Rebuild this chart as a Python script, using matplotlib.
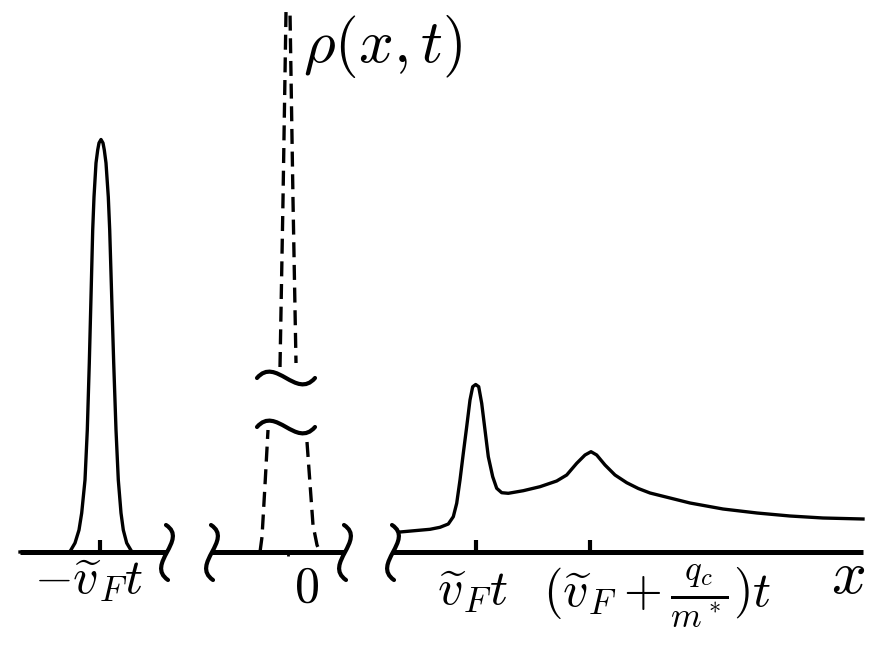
import matplotlib
matplotlib.use("Agg")
import matplotlib.pyplot as plt
from matplotlib.path import Path
from matplotlib.patches import PathPatch

plt.rcParams["mathtext.fontset"] = "cm"

# peak at -v_F t (left branch)
left_x = [0.20, 0.65, 0.70, 0.75, 0.79, 0.817, 0.85, 0.873, 0.893, 0.91, 0.927, 0.94,
          0.96, 0.977, 0.99, 1.01, 1.03, 1.043, 1.06, 1.083, 1.097, 1.117, 1.137, 1.16,
          1.183, 1.21, 1.233, 1.267, 1.317, 1.37, 1.60]
left_rho = [0.00, 0.00, 0.005, 0.09, 0.22, 0.39, 0.72, 1.22, 1.89, 2.55, 3.22, 3.55,
            3.89, 4.02, 4.09, 4.125, 4.09, 4.02, 3.89, 3.55, 3.22, 2.55, 1.89, 1.22,
            0.72, 0.39, 0.22, 0.09, 0.005, 0.00, 0.00]

# peak at x = 0 (dashed, cut in the middle)
mid_low_lx = [2.60, 2.62, 2.65, 2.68]
mid_low_lrho = [0.00, 0.15, 0.67, 1.22]
mid_low_rx = [3.07, 3.13, 3.17, 3.20]
mid_low_rrho = [1.10, 0.27, 0.07, 0.00]
mid_high_x = [2.80, 2.83, 2.86, 2.90, 2.93, 2.96]
mid_high_rho = [1.85, 3.52, 5.40, 5.40, 3.52, 1.89]
cut_levels = [1.74, 1.25]
cut_x = 2.86

# right branch: v_F t and (v_F + q_c/m*) t
right_x = [4.00, 4.30, 4.40, 4.483, 4.533, 4.567, 4.60, 4.633, 4.667, 4.70, 4.727,
           4.757, 4.787, 4.817, 4.85, 4.883, 4.927, 4.967, 5.017, 5.083, 5.233, 5.40,
           5.567, 5.667, 5.767, 5.85, 5.91, 5.967, 6.05, 6.15, 6.267, 6.383, 6.50,
           6.90, 7.23, 7.57, 7.90, 8.23, 8.63]
right_rho = [0.20, 0.227, 0.247, 0.28, 0.353, 0.487, 0.72, 0.987, 1.253, 1.52, 1.653,
             1.675, 1.653, 1.487, 1.22, 0.953, 0.753, 0.637, 0.593, 0.587, 0.613, 0.653,
             0.71, 0.77, 0.887, 0.97, 1.003, 0.97, 0.87, 0.77, 0.693, 0.635, 0.59,
             0.49, 0.43, 0.39, 0.36, 0.34, 0.33]

# broken x axis
axis_start, axis_end = 0.20, 8.63
breaks = [1.67, 2.12, 3.45, 3.93]

tick_x = [1.00, 4.76, 5.90]
tick_labels = [r"$-\widetilde{v}_F t$", r"$\widetilde{v}_F t$",
               r"$(\widetilde{v}_F+\frac{q_c}{m^*})t$"]
tick_label_pos = [(0.885, -0.41), (4.72, -0.52), (6.575, -0.545)]
zero_x = 2.88

fig = plt.figure(figsize=(8.76, 6.46), dpi=100)
ax = fig.add_axes([0, 0, 1, 1])
ax.set_xlim(0, 8.76)
ax.set_ylim(-0.94, 5.52)
ax.axis("off")

# axis pieces between the break marks
seg_ends = [axis_start] + breaks + [axis_end]
for a, b in zip(seg_ends[0::2], seg_ends[1::2]):
    ax.plot([a, b], [0, 0], color="black", lw=3.6, solid_capstyle="butt")

# break marks, a vertical S at each cut
for bx in breaks:
    verts = [(bx - 0.01, 0.27), (bx + 0.22, 0.12), (bx - 0.22, -0.12), (bx + 0.01, -0.28)]
    path = Path(verts, [Path.MOVETO, Path.CURVE4, Path.CURVE4, Path.CURVE4])
    ax.add_patch(PathPatch(path, fill=False, lw=3.0, color="black", capstyle="round"))

# ticks
ax.vlines(tick_x, 0, 0.12, color="black", lw=3)
ax.vlines([zero_x], -0.04, 0, color="black", lw=2)

# curves
ax.plot(left_x, left_rho, color="black", lw=2.4, solid_joinstyle="round")
ax.plot(right_x, right_rho, color="black", lw=2.4, solid_joinstyle="round")
for xs, ys in [(mid_low_lx, mid_low_lrho), (mid_low_rx, mid_low_rrho), (mid_high_x, mid_high_rho)]:
    ax.plot(xs, ys, color="black", lw=2.4, dashes=(4.5, 2.3))

# "~" marks where the central peak is cut
for lvl in cut_levels:
    verts = [(cut_x - 0.29, lvl), (cut_x - 0.10, lvl + 0.22), (cut_x + 0.10, lvl - 0.22), (cut_x + 0.29, lvl)]
    path = Path(verts, [Path.MOVETO, Path.CURVE4, Path.CURVE4, Path.CURVE4])
    ax.add_patch(PathPatch(path, fill=False, lw=3.0, color="black", capstyle="round"))

# labels
for lab, (lx, ly) in zip(tick_labels, tick_label_pos):
    ax.text(lx, ly, lab, fontsize=36, ha="center", va="baseline")
ax.text(3.065, -0.50, r"$0$", fontsize=36, ha="center", va="baseline")
ax.text(8.48, -0.41, r"$x$", fontsize=44, ha="center", va="baseline")
ax.text(3.03, 4.90, r"$\rho(x,t)$", fontsize=44, ha="left", va="baseline")

fig.savefig("out.png", dpi=100)
